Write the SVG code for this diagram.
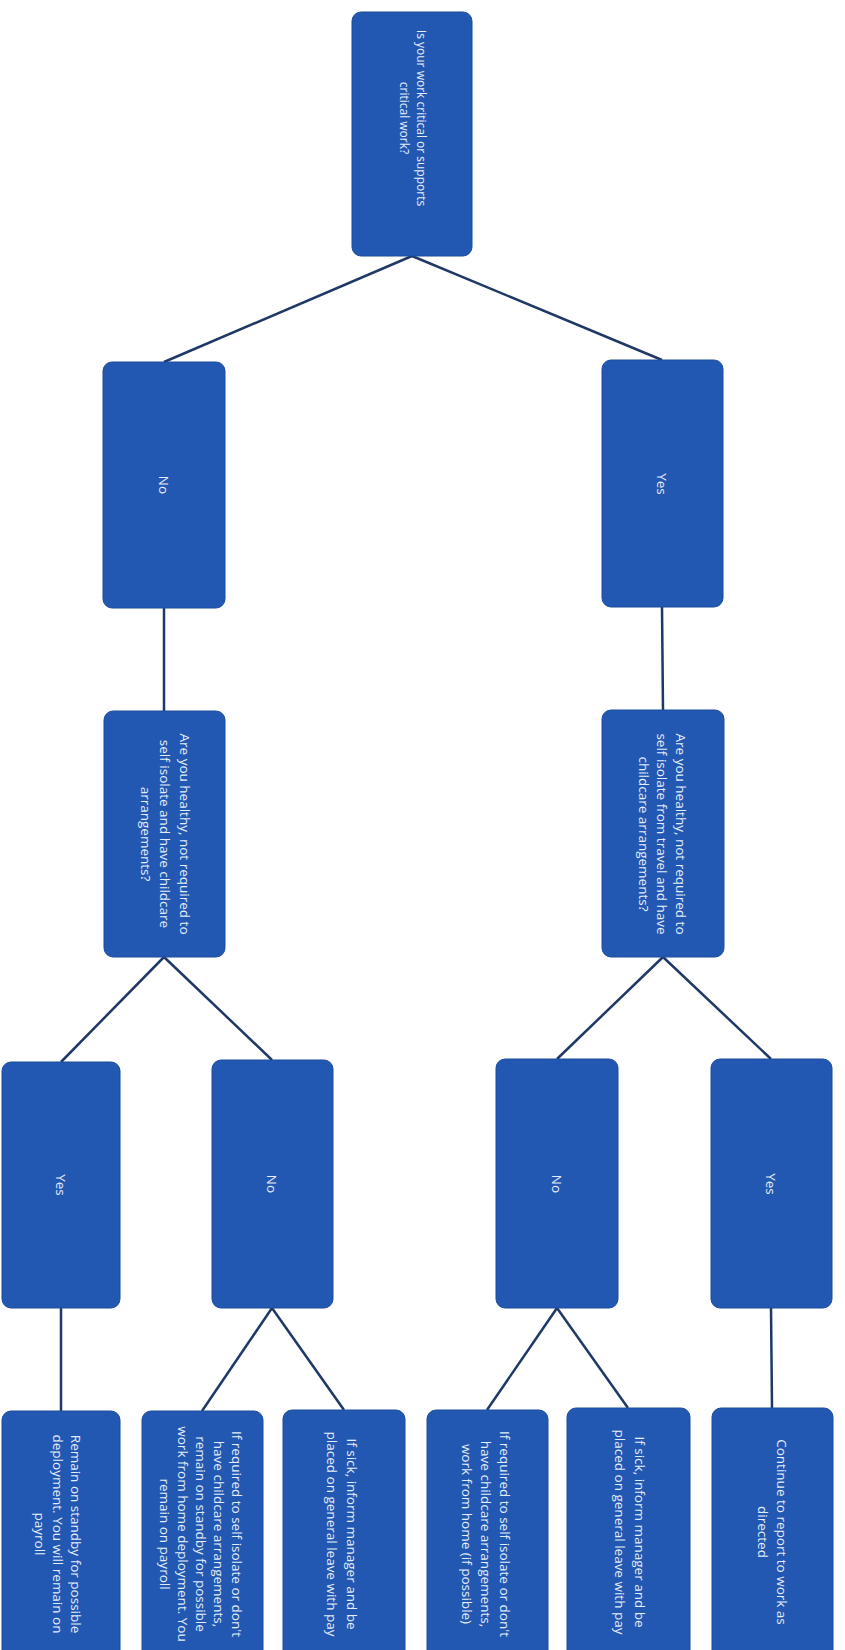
<svg xmlns="http://www.w3.org/2000/svg" width="845" height="1650" viewBox="0 0 845 1650">
<style>
.box{fill:#2358b2;stroke:#1d4d9c;stroke-width:1}
.lbl{font-family:"Open Sans","Liberation Sans",sans-serif;font-size:13.5px;fill:#e4ecf8;text-anchor:middle;dominant-baseline:central}
.small{font-size:12px}
.conn{stroke:#1f3866;stroke-width:2.5;fill:none}
</style>
<rect width="845" height="1650" fill="#ffffff"/>
<g id="connectors">
<line class="conn" x1="412" y1="256" x2="164" y2="362"/>
<line class="conn" x1="412" y1="256" x2="662" y2="360"/>
<line class="conn" x1="164" y1="608" x2="164" y2="711"/>
<line class="conn" x1="662" y1="607" x2="663" y2="710"/>
<line class="conn" x1="164" y1="957" x2="61" y2="1062"/>
<line class="conn" x1="164" y1="957" x2="272" y2="1060"/>
<line class="conn" x1="663" y1="957" x2="557" y2="1059"/>
<line class="conn" x1="663" y1="957" x2="771" y2="1059"/>
<line class="conn" x1="61" y1="1308" x2="61" y2="1411"/>
<line class="conn" x1="272" y1="1308" x2="202" y2="1411"/>
<line class="conn" x1="272" y1="1308" x2="344" y2="1410"/>
<line class="conn" x1="557" y1="1308" x2="487" y2="1410"/>
<line class="conn" x1="557" y1="1308" x2="628" y2="1408"/>
<line class="conn" x1="771" y1="1308" x2="772" y2="1408"/>
</g>
<g id="n-top">
<rect class="box" x="352" y="12" width="120" height="244" rx="9"/>
<g transform="translate(413,118) rotate(90)">
<text class="lbl small" x="0" y="-8.5">Is your work critical or supports</text>
<text class="lbl small" x="0" y="8.5">critical work?</text>
</g>
</g>
<g id="n-no1">
<rect class="box" x="103" y="362" width="122" height="246" rx="9"/>
<text class="lbl" transform="translate(164,485) rotate(90)">No</text>
</g>
<g id="n-yes1">
<rect class="box" x="602" y="360" width="121" height="247" rx="9"/>
<text class="lbl" transform="translate(662,484) rotate(90)">Yes</text>
</g>
<g id="n-q-left">
<rect class="box" x="104" y="711" width="121" height="246" rx="9"/>
<g transform="translate(165,834) rotate(90)">
<text class="lbl" x="0" y="-19.5">Are you healthy, not required to</text>
<text class="lbl" x="0" y="0">self isolate and have childcare</text>
<text class="lbl" x="0" y="19.5">arrangements?</text>
</g>
</g>
<g id="n-q-right">
<rect class="box" x="602" y="710" width="122" height="247" rx="9"/>
<g transform="translate(662,834) rotate(90)">
<text class="lbl" x="0" y="-18.5">Are you healthy, not required to</text>
<text class="lbl" x="0" y="0">self isolate from travel and have</text>
<text class="lbl" x="0" y="18.5">childcare arrangements?</text>
</g>
</g>
<g id="n-yes2">
<rect class="box" x="2" y="1062" width="118" height="246" rx="9"/>
<text class="lbl" transform="translate(61,1185) rotate(90)">Yes</text>
</g>
<g id="n-no2">
<rect class="box" x="212" y="1060" width="121" height="248" rx="9"/>
<text class="lbl" transform="translate(272,1184) rotate(90)">No</text>
</g>
<g id="n-no3">
<rect class="box" x="496" y="1059" width="122" height="249" rx="9"/>
<text class="lbl" transform="translate(557,1184) rotate(90)">No</text>
</g>
<g id="n-yes3">
<rect class="box" x="711" y="1059" width="121" height="249" rx="9"/>
<text class="lbl" transform="translate(771,1184) rotate(90)">Yes</text>
</g>
<g id="r-standby">
<rect class="box" x="2" y="1411" width="118" height="248" rx="9"/>
<g transform="translate(58,1534) rotate(90)">
<text class="lbl" x="0" y="-18">Remain on standby for possible</text>
<text class="lbl" x="0" y="0">deployment. You will remain on</text>
<text class="lbl" x="0" y="18">payroll</text>
</g>
</g>
<g id="r-isolate-standby">
<rect class="box" x="142" y="1411" width="121" height="248" rx="9"/>
<g transform="translate(201,1534) rotate(90)">
<text class="lbl" x="0" y="-36">If required to self isolate or don't</text>
<text class="lbl" x="0" y="-18">have childcare arrangements,</text>
<text class="lbl" x="0" y="0">remain on standby for possible</text>
<text class="lbl" x="0" y="18">work from home deployment. You</text>
<text class="lbl" x="0" y="36">remain on payroll</text>
</g>
</g>
<g id="r-sick-left">
<rect class="box" x="283" y="1410" width="122" height="249" rx="9"/>
<g transform="translate(342,1534) rotate(90)">
<text class="lbl" x="0" y="-10">If sick, inform manager and be</text>
<text class="lbl" x="0" y="10">placed on general leave with pay</text>
</g>
</g>
<g id="r-isolate-home">
<rect class="box" x="427" y="1410" width="121" height="249" rx="9"/>
<g transform="translate(486,1534) rotate(90)">
<text class="lbl" x="0" y="-19">If required to self isolate or don't</text>
<text class="lbl" x="0" y="0">have childcare arrangements,</text>
<text class="lbl" x="0" y="19">work from home (if possible)</text>
</g>
</g>
<g id="r-sick-right">
<rect class="box" x="567" y="1408" width="123" height="251" rx="9"/>
<g transform="translate(630,1532) rotate(90)">
<text class="lbl" x="0" y="-10">If sick, inform manager and be</text>
<text class="lbl" x="0" y="10">placed on general leave with pay</text>
</g>
</g>
<g id="r-continue">
<rect class="box" x="712" y="1408" width="121" height="251" rx="9"/>
<g transform="translate(772,1532) rotate(90)">
<text class="lbl" x="0" y="-9.5">Continue to report to work as</text>
<text class="lbl" x="0" y="9.5">directed</text>
</g>
</g>
</svg>
